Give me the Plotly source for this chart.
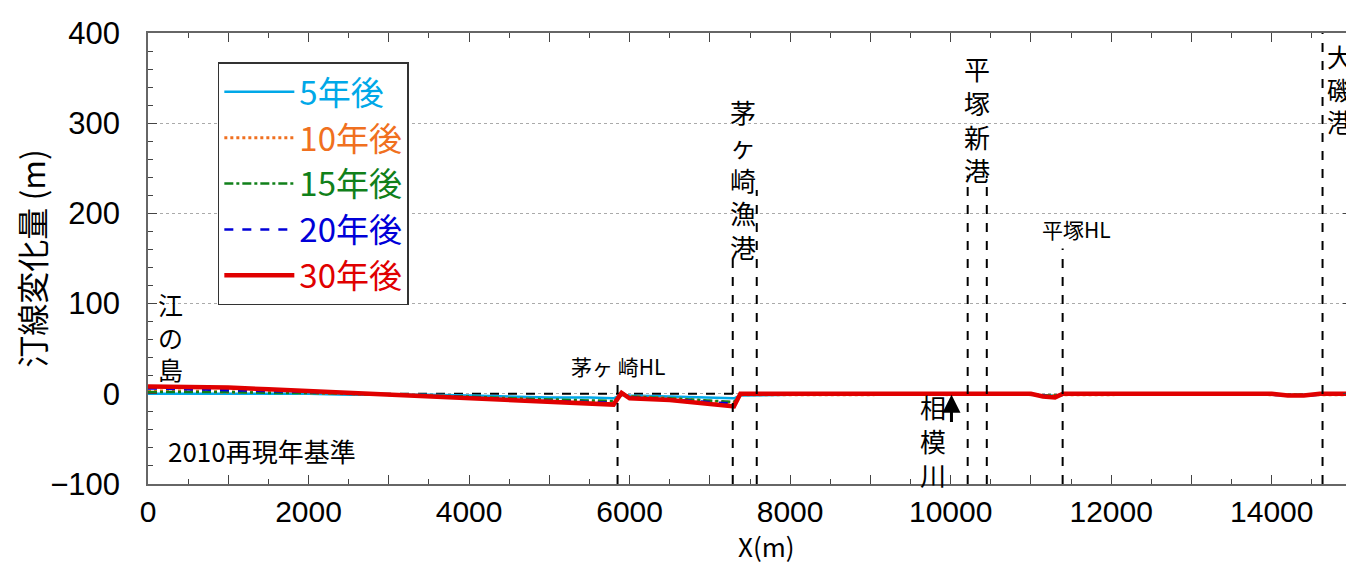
import plotly.graph_objects as go

# ---- data ----
x_pos = [0, 500, 1000, 1500, 2000, 2500, 3000, 3500, 4000, 4500, 5000, 5500, 5800, 5900,
         6000, 6500, 7000, 7300, 7380, 8000, 9000, 9500, 10000, 10450, 10800, 11000,
         11150, 11300, 11400, 12000, 12500, 13000, 13500, 14000, 14200, 14400, 14600, 15000]
y_5 = [0, 0, 0, 0, 0, -1, -1, -1, -2, -3, -4, -4, -5, -1,
       -2, -3, -4, -5, -2, -1, -1, -1, -1, -1, -1, -1,
       -2, -2, -1, -1, -1, -1, -1, -1, -1, -1, -1, -1]
y_10 = [3, 3, 2, 2, 1, 0, -1, -2, -4, -5, -7, -8, -9, -1,
        -3, -5, -8, -10, -1, -1, -1, 0, -1, 0, 0, -1,
        -2, -2, -1, -1, 0, 0, 0, -1, -1, -1, -1, -1]
y_15 = [2, 2, 2, 1, 1, 0, -1, -2, -3, -5, -6, -7, -8, -1,
        -3, -5, -7, -9, -1, -1, -1, 0, -1, 0, 0, -1,
        -2, -2, -1, -1, 0, 0, 0, -1, -1, -1, -1, -1]
y_20 = [6, 5, 4, 3, 2, 1, -1, -2, -4, -6, -8, -9, -10, 0,
        -4, -6, -9, -11, -1, -1, -1, 0, -1, 0, 0, -1,
        -2, -3, -1, -1, 0, 0, 0, -1, -2, -2, -1, -1]
y_30 = [8, 8, 7, 5, 3, 1, -1, -3, -6, -8, -10, -12, -12, 1,
        -5, -7, -11, -14, 0, 0, 0, 1, 0, 1, 1, 0,
        -3, -4, 0, 0, 1, 1, 1, 0, -2, -2, 0, 0]
base_x = [0, 7300]
base_y = [0, 0]

series_names = ["5年後", "10年後", "15年後", "20年後", "30年後"]
series_colors = ["#00A8E8", "#F07020", "#10801A", "#0000D8", "#E00000"]
series_dash = ["solid", "dot", "dashdot", "dash", "solid"]
series_width = [2.5, 3, 2.5, 2.5, 4.5]
series_y = [y_5, y_10, y_15, y_20, y_30]

# landmark vertical lines: x position, top value
land_x = [5850, 7285, 7584, 10212, 10450, 11395, 14633]
land_top = [15, 156, 226, 242, 242, 161, 400]

x_tickvals = list(range(0, 15001, 1000))
x_ticktext = [str(v) if v % 2000 == 0 else "" for v in x_tickvals]

FONT = "Liberation Sans, Arial, Noto Sans CJK JP"
JP = "Noto Sans CJK JP, Liberation Sans"

fig = go.Figure()
fig.add_trace(go.Scatter(x=base_x, y=base_y, mode="lines",
                         line=dict(color="black", dash="dash", width=2), showlegend=False,
                         hoverinfo="skip"))
for name, col, dsh, w, ys in zip(series_names, series_colors, series_dash, series_width, series_y):
    fig.add_trace(go.Scatter(x=x_pos, y=ys, mode="lines", name=f"<span style='color:{col}'>{name}</span>",
                             line=dict(color=col, dash=dsh, width=w), legendgroup=name))

for lx, lt in zip(land_x, land_top):
    fig.add_shape(type="line", x0=lx, x1=lx, y0=-100, y1=lt, xref="x", yref="y",
                  line=dict(color="black", dash="dash", width=2))

def vtext(s):
    return "<br>".join(list(s))

ann = [
    dict(x=280, y=63, text=vtext("江の島"), size=25),
    dict(x=5850, y=31, text="茅ヶ 崎HL", size=21),
    dict(x=7410, y=238, text=vtext("茅ヶ崎漁港"), size=26),
    dict(x=10330, y=305, text=vtext("平塚新港"), size=26),
    dict(x=11570, y=183, text="平塚HL", size=21),
    dict(x=14850, y=338, text=vtext("大磯港"), size=25),
    dict(x=9780, y=-52, text=vtext("相模川"), size=26),
    dict(x=1420, y=-63, text="2010再現年基準", size=26),
]
for a in ann:
    fig.add_annotation(x=a["x"], y=a["y"], xref="x", yref="y", text=a["text"], showarrow=False,
                       xanchor="center", yanchor="middle",
                       font=dict(family=JP, size=a["size"], color="black"))

fig.add_annotation(x=10010, y=-1, xref="x", yref="y", ax=10010, ay=-33, axref="x", ayref="y",
                   text="", showarrow=True, arrowhead=2, arrowsize=1.2, arrowwidth=3, arrowcolor="black")

# x-axis title
fig.add_annotation(x=0.514, y=-0.181, xref="paper", yref="paper", text="X(m)", showarrow=False,
                   xanchor="center", yanchor="bottom", font=dict(family=JP, size=26, color="black"))

fig.update_layout(
    width=1346, height=558,
    margin=dict(l=140, r=2, t=25, b=82),
    paper_bgcolor="white", plot_bgcolor="white",
    font=dict(family=FONT, color="black"),
    legend=dict(x=0.058, y=0.935, xanchor="left", yanchor="top",
                bordercolor="#333", borderwidth=1.5, bgcolor="white",
                font=dict(family=JP, size=33), itemwidth=70, tracegroupgap=0),
    showlegend=True,
)
fig.update_xaxes(range=[0, 15000], tickvals=x_tickvals, ticktext=x_ticktext, automargin=False,
                 ticks="inside", ticklen=9, tickcolor="#444", mirror="ticks",
                 showline=True, linecolor="#666", linewidth=1.5, ticklabelstandoff=0,
                 minor=dict(dtick=500, ticks="inside", ticklen=5, tickcolor="#444"),
                 showgrid=False, zeroline=False,
                 tickfont=dict(family=FONT, size=30))
fig.update_yaxes(range=[-100, 400], dtick=100, automargin=False,
                 ticks="inside", ticklen=9, tickcolor="#444", mirror="ticks",
                 showline=True, linecolor="#666", linewidth=1.5, ticklabelstandoff=20,
                 minor=dict(dtick=20, ticks="inside", ticklen=5, tickcolor="#444", showgrid=False),
                 showgrid=True, gridcolor="#aaa", griddash="dot", gridwidth=1, zeroline=False,
                 tickfont=dict(family=FONT, size=31),
                 title=dict(text="汀線変化量 (m)", font=dict(family=JP, size=32), standoff=18))

fig.write_html("out.html")
